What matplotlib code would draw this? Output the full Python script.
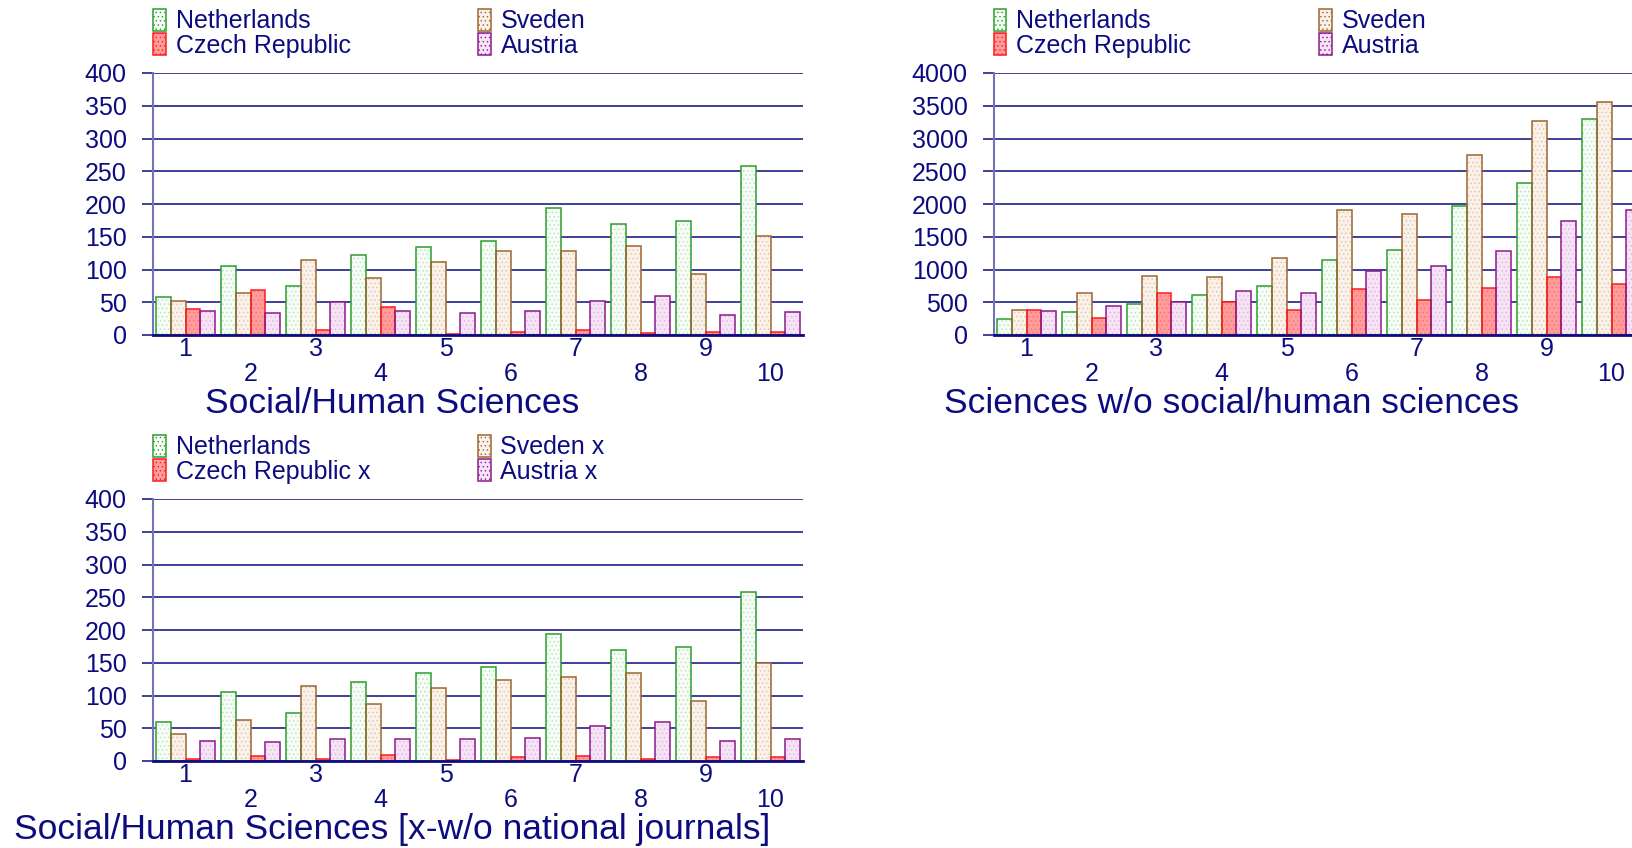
import numpy as np
import matplotlib.pyplot as plt
from matplotlib.patches import Patch

plt.rcParams['font.family'] = ['Liberation Sans', 'DejaVu Sans']
plt.rcParams['hatch.linewidth'] = 0.5

# groups 1..10
groups = [1, 2, 3, 4, 5, 6, 7, 8, 9, 10]

# Social/Human Sciences
nl_soc = [58, 105, 75, 122, 135, 144, 194, 170, 174, 258]
se_soc = [52, 64, 115, 87, 112, 129, 129, 136, 93, 151]
cz_soc = [39, 69, 7, 43, 2, 5, 7, 3, 5, 5]
at_soc = [37, 33, 50, 36, 34, 37, 52, 60, 31, 35]

# Sciences w/o social/human sciences
nl_sci = [249, 356, 473, 615, 747, 1144, 1301, 1967, 2323, 3299]
se_sci = [381, 640, 900, 884, 1179, 1916, 1840, 2745, 3263, 3553]
cz_sci = [381, 259, 645, 503, 381, 706, 529, 722, 889, 783]
at_sci = [361, 442, 503, 671, 635, 981, 1052, 1286, 1738, 1901]

# Social/Human Sciences without national journals
nl_x = [59, 105, 74, 121, 135, 144, 194, 170, 174, 258]
se_x = [41, 63, 114, 87, 111, 123, 129, 135, 92, 150]
cz_x = [3, 7, 3, 9, 2, 6, 7, 3, 6, 6]
at_x = [31, 29, 33, 33, 33, 35, 53, 60, 31, 34]

navy = '#0c0c80'
# face, dots, edge  (order: Netherlands, Sweden, Czech Republic, Austria)
styles = [('#f6fcf6', '#b8e0b8', '#2e9e2e'),
          ('#faf2ea', '#dcc4a6', '#9c6630'),
          ('#ff9c9c', '#ff7070', '#ff1a1a'),
          ('#f6e4f6', '#dcb6dc', '#8c1a8c')]

fig = plt.figure(figsize=(16.32, 8.48), dpi=100)
W, H = 1632.0, 848.0


def panel(left_px, bottom_px, series, names, ymax, ystep, title, title_x):
    ax = fig.add_axes([left_px / W, 1 - bottom_px / H, 650 / W, 262 / H])
    x = np.array(groups)
    w = 0.227
    for k, vals in enumerate(series):
        face, dots, edge = styles[k]
        xs = x + (k - 1.5) * w
        ax.bar(xs, vals, w, color=face, edgecolor=dots, hatch='....',
               linewidth=0, zorder=3)
        ax.bar(xs, vals, w, fill=False, edgecolor=edge, linewidth=1.1,
               zorder=4)
    ax.set_xlim(0.5, 10.5)
    ax.set_ylim(0, ymax)
    ax.set_yticks(np.arange(0, ymax + 1, ystep))
    ax.grid(axis='y', color=navy, linewidth=1.1, zorder=1)
    for s in ['top', 'right']:
        ax.spines[s].set_visible(False)
    ax.spines['left'].set_color('#7474b8')
    ax.spines['left'].set_linewidth(1.5)
    ax.spines['bottom'].set_color(navy)
    ax.spines['bottom'].set_linewidth(2)
    ax.spines['bottom'].set_zorder(5)
    ax.tick_params(axis='y', colors=navy, labelsize=18, length=8,
                   width=1.1, pad=11)
    odd = groups[0::2]
    even = groups[1::2]
    ax.set_xticks(odd, [str(g) for g in odd])
    ax.set_xticks(even, [str(g) for g in even], minor=True)
    ax.tick_params(axis='x', which='both', colors=navy, labelsize=18,
                   length=0)
    ax.tick_params(axis='x', which='major', pad=1.5)
    ax.tick_params(axis='x', which='minor', pad=19.5)

    handles = [Patch(facecolor=st[0], edgecolor=st[2], hatch='....',
                     linewidth=1.1) for st in styles]
    top_y = bottom_px - 262 - 64
    cols = [([handles[0], handles[2]], [names[0], names[2]], 0),
            ([handles[1], handles[3]], [names[1], names[3]], 325)]
    for hs, ls, dx in cols:
        fig.legend(hs, ls, loc='upper left',
                   bbox_to_anchor=((left_px + dx) / W, 1 - top_y / H),
                   frameon=False, fontsize=18, labelcolor=navy,
                   handlelength=0.5, handleheight=0.95,
                   handletextpad=0.4, labelspacing=0.0,
                   borderpad=0, borderaxespad=0)
    fig.text(title_x / W, 1 - (bottom_px + 69) / H, title, color=navy,
             fontsize=25.5, ha='center', va='center')
    return ax


panel(153, 335, [nl_soc, se_soc, cz_soc, at_soc],
      ['Netherlands', 'Sveden', 'Czech Republic', 'Austria'],
      400, 50, 'Social/Human Sciences', 392)
panel(994, 335, [nl_sci, se_sci, cz_sci, at_sci],
      ['Netherlands', 'Sveden', 'Czech Republic', 'Austria'],
      4000, 500, 'Sciences w/o social/human sciences', 1231)
panel(153, 761, [nl_x, se_x, cz_x, at_x],
      ['Netherlands', 'Sveden x', 'Czech Republic x', 'Austria x'],
      400, 50, 'Social/Human Sciences [x-w/o national journals]', 392)

fig.savefig('out.png', dpi=100)
